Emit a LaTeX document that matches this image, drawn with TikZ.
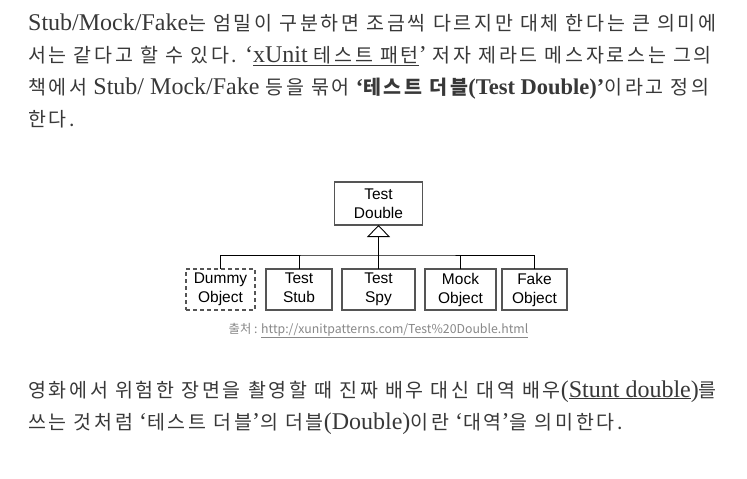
\documentclass[tikz,border=0pt]{standalone}
\usepackage{fontspec}
\setmainfont{Liberation Serif}
\newfontfamily\krf[LetterSpace=14]{Noto Sans CJK KR}
\newfontfamily\boxf{Liberation Sans}
\newfontfamily\capf{Noto Sans CJK KR}
\usepackage{xcolor}
\usetikzlibrary{positioning}
\usetikzlibrary{arrows.meta}

\definecolor{bodytext}{HTML}{383838}
\definecolor{boxline}{HTML}{555555}
\definecolor{captext}{HTML}{888888}

\newcommand{\ko}[1]{{\krf\fontsize{19.5}{22}\selectfont #1}}

\begin{document}
\begin{tikzpicture}[x=1pt, y=-1pt, font=\fontsize{24}{28}\selectfont]
    \tikzstyle{txt}=[anchor=base west, inner sep=0pt, text=bodytext]
    \tikzstyle{box}=[draw=boxline, line width=1.2pt, rectangle, fill=none, minimum height=41pt, inner sep=0pt, outer sep=0pt, align=center, font=\boxf\fontsize{15.5}{19}\selectfont]
    \tikzstyle{link}=[draw=black, line width=0.9pt]

    \path[fill=white, use as bounding box] (0,0) rectangle (747,479);

    % paragraph above
    \node[txt] (l1) at (28,30) {Stub/Mock/Fake\ko{는 엄밀이 구분하면 조금씩 다르지만 대체 한다는 큰 의미에}};
    \node[txt] (l2) at (28,62) {\ko{서는 같다고 할 수 있다.} ‘\underline{xUnit \ko{테스트 패턴}}’ \ko{저자 제라드 메스자로스는 그의}};
    \node[txt] (l3) at (28,94) {\ko{책에서} Stub/ Mock/Fake \ko{등을 묶어} {\fontsize{22.5}{28}\selectfont\bfseries ‘\ko{테스트 더블}(Test Double)’}\ko{이라고 정의}};
    \node[txt] (l4) at (28,126) {\ko{한다.}};

    % class diagram
    \node[box, minimum width=88pt, minimum height=43pt] (TD) at (378.5,203.5) {Test\\Double};
    \node[box, minimum width=73pt, below=44pt of TD] (spy) {Test\\Spy};
    \node[box, minimum width=66pt, left=10pt of spy] (stub) {Test\\Stub\vphantom{y}};
    \node[box, minimum width=69pt, left=11pt of stub, dash pattern=on 4pt off 3pt] (dummy) {Dummy\\Object};
    \node[box, minimum width=71pt, right=10pt of spy] (mock) {Mock\\Object};
    \node[box, minimum width=65pt, right=6pt of mock] (fake) {Fake\\Object};
    \coordinate[below=30pt of TD.south] (bus);

    \draw[link] (dummy.north) |- (bus) -| (fake.north);
    \foreach \n in {stub, mock}
        \draw[link] (\n.north) -- (\n.north |- bus);
    \draw[link, -{Triangle[open, length=12pt, width=23pt]}] (spy.north) -- (TD.south);

    \node[below=13pt of spy.south, anchor=north, inner sep=0pt, text=captext, font=\capf\fontsize{12.3}{14}\selectfont] (src) {출처 : \underline{http://xunitpatterns.com/Test\%20Double.html}};

    % paragraph below
    \node[txt] (b1) at (28,397) {\ko{영화에서 위험한 장면을 촬영할 때 진짜 배우 대신 대역 배우}(\underline{Stunt double})\ko{를}};
    \node[txt] (b2) at (28,429) {\ko{쓰는 것처럼} ‘\ko{테스트 더블}’\ko{의 더블}(Double)\ko{이란} ‘\ko{대역}’\ko{을 의미한다.}};
\end{tikzpicture}
\end{document}
